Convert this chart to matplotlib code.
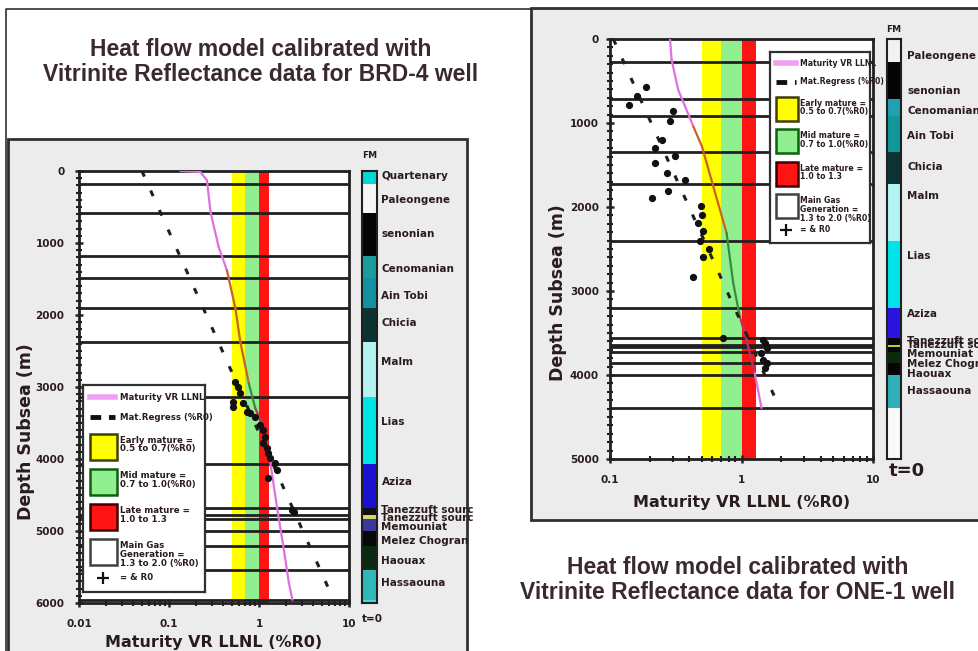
import numpy as np
import matplotlib
matplotlib.use("Agg")
import matplotlib.pyplot as plt
from matplotlib.patches import Rectangle
from matplotlib.lines import Line2D
from matplotlib.ticker import FixedLocator, MultipleLocator, NullFormatter, LogLocator

# ---------------- BRD-4 well (left) ----------------
brd_fm_names = ["Quartenary", "Paleongene", "senonian", "Cenomanian", "Ain Tobi", "Chicia",
                "Malm", "Lias", "Aziza", "Tanezzuft sourc", "Tanezzuft sourc", "Memouniat",
                "Melez Chogran", "Haouax", "Hassaouna", ""]
brd_fm_top = [0, 176, 578, 1183, 1484, 1909, 2372, 3134, 4073, 4683, 4776, 4836, 4998, 5206, 5548, 5955]
brd_fm_base = [176, 578, 1183, 1484, 1909, 2372, 3134, 4073, 4683, 4776, 4836, 4998, 5206, 5548, 5955, 6000]
brd_fm_colors = ["#00d8d8", "#f6f6f6", "#050505", "#1c9c9c", "#1490a0", "#0c3232", "#b4f2f2",
                 "#00e6e6", "#1a10d0", "#101010", "#d8d860", "#3838a0", "#080808", "#0a2a10",
                 "#30b8b8", "#40e0e0"]
brd_label_depth = [74, 407, 878, 1355, 1738, 2117, 2649, 3481, 4323, 4706, 4813, 4947, 5132, 5414, 5724, 0]

brd_vr_depth = [0, 14, 129, 578, 1054, 1378, 1909, 2372, 2950, 3296, 3551, 4059, 4683, 5261, 5724, 5955]
brd_vr_model = [0.133, 0.223, 0.264, 0.29, 0.356, 0.44, 0.547, 0.62, 0.77, 0.91, 1.13, 1.34, 1.59, 1.89, 2.15, 2.35]

brd_reg_depth = [0, 6000]
brd_reg_ro = [0.05, 7.0]

brd_meas_depth = [2926, 2996, 3088, 3204, 3273, 3227, 3343, 3366, 3413, 3528, 3597, 3690,
                  3782, 3851, 3921, 3990, 4060, 4153, 4268, 4708, 4730]
brd_meas_ro = [0.54, 0.59, 0.61, 0.52, 0.51, 0.67, 0.73, 0.80, 0.91, 1.03, 1.12, 1.17,
               1.12, 1.22, 1.27, 1.33, 1.51, 1.58, 1.27, 2.32, 2.45]

# ---------------- ONE-1 well (right) ----------------
one_fm_names = ["Paleongene", "senonian", "Cenomanian", "Ain Tobi", "Chicia", "Malm", "Lias",
                "Aziza", "Tanezzuft sourc", "Tanezzuft sourc", "Memouniat", "Melez Chogran",
                "Haouax", "Hassaouna", ""]
one_fm_top = [0, 278, 714, 921, 1349, 1726, 2409, 3202, 3560, 3640, 3663, 3722, 3853, 3996, 4393]
one_fm_base = [278, 714, 921, 1349, 1726, 2409, 3202, 3560, 3640, 3663, 3722, 3853, 3996, 4393, 5000]
one_fm_colors = ["#f2f2f2", "#050505", "#20a0b0", "#109898", "#0a3434", "#b4f4f4", "#00e4e8",
                 "#2a14e0", "#080808", "#c8c840", "#080808", "#0a2a0a", "#050505", "#30b0b8",
                 "#fafafa"]
one_label_depth = [206, 623, 861, 1151, 1524, 1873, 2579, 3274, 3599, 3639, 3746, 3865, 3984, 4194, 0]

one_vr_depth = [0, 246, 604, 1040, 1278, 1754, 2310, 2905, 3302, 3579, 3976, 4393]
one_vr_model = [0.286, 0.294, 0.33, 0.43, 0.50, 0.61, 0.77, 0.865, 0.97, 1.09, 1.26, 1.42]

one_reg_depth = [0, 4393]
one_reg_ro = [0.106, 1.95]

one_meas_depth = [571, 683, 782, 862, 981, 1199, 1298, 1398, 1477, 1595, 1675, 1806, 1893,
                  1993, 2092, 2190, 2290, 2410, 2500, 2595, 2833, 3560, 3580, 3619, 3679,
                  3738, 3818, 3857, 3917]
one_meas_ro = [0.188, 0.16, 0.14, 0.30, 0.286, 0.247, 0.22, 0.31, 0.22, 0.27, 0.37, 0.277, 0.207,
               0.49, 0.50, 0.47, 0.51, 0.48, 0.57, 0.51, 0.43, 0.72, 1.46, 1.50, 1.55,
               1.41, 1.46, 1.55, 1.50]

# maturity windows (%R0)
zone_lo = [0.5, 0.7, 1.0, 1.3]
zone_hi = [0.7, 1.0, 1.3, 2.0]
zone_colors = ["#ffff00", "#90f090", "#ff1414", "#ffffff"]
zone_text = ["Early mature =\n0.5 to 0.7(%R0)", "Mid mature =\n0.7 to 1.0(%R0)",
             "Late mature =\n1.0 to 1.3", "Main Gas\nGeneration =\n1.3 to 2.0 (%R0)"]
zone_edges = ["#404000", "#106010", "#400000", "#404040"]

W, H = 979, 651
TXT = "#2a1c1c"
BOLD = dict(fontweight="bold", color=TXT, family="DejaVu Sans")

fig = plt.figure(figsize=(W / 100, H / 100), dpi=100)
fig.patch.set_facecolor("white")


def px_box(x0, y0, x1, y1):
    # pixel box (top-left origin) -> figure fraction rect
    return [x0 / W, 1 - y1 / H, (x1 - x0) / W, (y1 - y0) / H]


def frame(x0, y0, x1, y1, fc, lw=1.6):
    r = px_box(x0, y0, x1, y1)
    fig.patches.append(Rectangle((r[0], r[1]), r[2], r[3], transform=fig.transFigure,
                                 facecolor=fc, edgecolor="#303030", lw=lw, zorder=-5))


# panel frames
fig.lines.append(Line2D([6 / W, 6 / W, 531 / W], [0, 1 - 9 / H, 1 - 9 / H],
                        transform=fig.transFigure, color="#303030", lw=1.2, zorder=-6))
frame(8, 139, 467, 660, "#ececec", 2.0)
frame(531, 8, 990, 520, "#ececec", 2.0)


def vr_color(v):
    if v < 0.42:
        return "#e070e0"
    if v < 0.72:
        return "#c8641e"
    if v < 1.0:
        return "#3c8c3c"
    if v < 1.3:
        return "#c03060"
    return "#e070e0"


def draw_well(rect, bar_rect, xlim, ymax, fm_top, fm_base, fm_colors, fm_names, label_depth,
              label_x, vr_depth, vr_model, reg_depth, reg_ro, meas_depth, meas_ro, xticks,
              xticklabels, ypad, xlab_y):
    ax = fig.add_axes(px_box(*rect))
    ax.set_facecolor("white")
    ax.set_xscale("log")
    ax.set_xlim(*xlim)
    ax.set_ylim(ymax, 0)
    for lo, hi, c in zip(zone_lo, zone_hi, zone_colors):
        ax.axvspan(lo, hi, color=c, lw=0, zorder=1)
    for d in fm_top[1:]:
        ax.axhline(d, color="#202020", lw=2.0, zorder=2)
    # modelled maturity, coloured by maturity window
    for i in range(len(vr_depth) - 1):
        v = 0.5 * (vr_model[i] + vr_model[i + 1])
        ax.plot(vr_model[i:i + 2], vr_depth[i:i + 2], color=vr_color(v), lw=1.6, zorder=3,
                solid_capstyle="round")
    ax.plot(reg_ro, reg_depth, color="#202020", lw=2.2, dashes=(2, 5), zorder=3)
    ax.plot(meas_ro, meas_depth, "o", color="#111111", ms=4.2, zorder=4)
    for s in ax.spines.values():
        s.set_linewidth(2.0)
        s.set_color("#202020")
    ax.yaxis.set_major_locator(MultipleLocator(1000))
    ax.yaxis.set_minor_locator(MultipleLocator(100))
    ax.xaxis.set_major_locator(FixedLocator(xticks))
    ax.set_xticklabels(xticklabels)
    ax.xaxis.set_minor_locator(LogLocator(base=10, subs=np.arange(2, 10)))
    ax.xaxis.set_minor_formatter(NullFormatter())
    ax.tick_params(which="major", direction="inout", length=6, width=1.8, color="#202040",
                   labelsize=7.5)
    ax.tick_params(axis="x", which="major", pad=8.5)
    ax.tick_params(axis="y", which="major", pad=ypad)
    ax.tick_params(which="minor", direction="inout", length=4, width=1.5, color="#202020")
    for lab in ax.get_xticklabels() + ax.get_yticklabels():
        lab.set_fontweight("bold")
        lab.set_color(TXT)
    ax.set_xlabel("Maturity VR LLNL (%R0)", fontsize=11.5, **BOLD)
    ax.xaxis.set_label_coords(0.5, xlab_y)
    ax.set_ylabel("Depth Subsea (m)", fontsize=12.5, **BOLD)
    ax.yaxis.set_label_coords(-0.163, 0.396)

    bar = fig.add_axes(px_box(*bar_rect))
    bar.set_xlim(0, 1)
    bar.set_ylim(ymax, 0)
    bar.bar([0.5] * len(fm_top), np.array(fm_base) - np.array(fm_top), bottom=fm_top, width=1.0,
            color=fm_colors, lw=0)
    bar.set_xticks([])
    bar.set_yticks([])
    for s in bar.spines.values():
        s.set_linewidth(1.5)
        s.set_color("#202020")
    for name, d, x in zip(fm_names, label_depth, label_x):
        if name:
            bar.text(x, d, name, fontsize=7.5, va="center", ha="left", clip_on=False,
                     transform=bar.get_yaxis_transform(), **BOLD)
    return ax, bar


def draw_legend(rect, line_len, fs):
    lg = fig.add_axes(px_box(*rect))
    lg.set_xlim(0, 1)
    lg.set_ylim(1, 0)
    lg.set_facecolor("white")
    lg.set_xticks([])
    lg.set_yticks([])
    for s in lg.spines.values():
        s.set_linewidth(1.6)
        s.set_color("#303030")
    hx = 0.06
    tx = 0.30
    lg.plot([hx, hx + 0.2], [0.06, 0.06], color="#f0a0f0", lw=4)
    lg.text(tx, 0.06, "Maturity VR LLNL", fontsize=fs, va="center", **BOLD)
    lg.plot([hx, hx + 0.2], [0.155, 0.155], color="#111111", lw=3.5, dashes=(2.2, 1.6))
    lg.text(tx, 0.155, "Mat.Regress (%R0)", fontsize=fs, va="center", **BOLD)
    ys = [0.235, 0.405, 0.575, 0.745]
    for y, c, ec, t in zip(ys, zone_colors, zone_edges, zone_text):
        lg.add_patch(Rectangle((hx, y), line_len, 0.125, facecolor=c, edgecolor=ec, lw=1.8))
        lg.text(tx, y + 0.01, t, fontsize=fs, va="top", linespacing=0.95, **BOLD)
    lg.plot([hx + 0.1], [0.93], "+", color="#111111", ms=8, mew=1.6)
    lg.text(tx, 0.93, "= & R0", fontsize=fs, va="center", **BOLD)
    return lg


# left well
draw_well((79, 171, 349, 603), (362, 171, 377, 603), (0.01, 10), 6000,
          brd_fm_top, brd_fm_base, brd_fm_colors, brd_fm_names, brd_label_depth,
          [1.3] * len(brd_fm_names), brd_vr_depth, brd_vr_model, brd_reg_depth, brd_reg_ro,
          brd_meas_depth, brd_meas_ro, [0.01, 0.1, 1, 10], ["0.01", "0.1", "1", "10"],
          7.5, -0.073)
draw_legend((83, 385, 205, 592), 0.22, 6.2)
fig.text(362 / W, 1 - 158 / H, "FM", fontsize=6.5, **BOLD)
fig.text(362 / W, 1 - 619 / H, "t=0", fontsize=7.5, va="center", **BOLD)

# right well
draw_well((610, 39, 873, 459), (887, 39, 901, 459), (0.1, 10), 5000,
          one_fm_top, one_fm_base, one_fm_colors, one_fm_names, one_label_depth,
          [1.45] * len(one_fm_names), one_vr_depth, one_vr_model, one_reg_depth, one_reg_ro,
          one_meas_depth, one_meas_ro, [0.1, 1, 10], ["0.1", "1", "10"],
          5.0, -0.086)
draw_legend((770, 52, 870, 243), 0.22, 5.6)
fig.text(886 / W, 1 - 30 / H, "FM", fontsize=6.5, va="center", **BOLD)
fig.text(889 / W, 1 - 471 / H, "t=0", fontsize=13, va="center", **BOLD)

title_kw = dict(fontsize=16.5, fontweight="bold", color="#3a2a30", ha="center", va="center",
                family="Liberation Sans", linespacing=1.1)
fig.text(261 / W, 1 - 62 / H, "Heat flow model calibrated with\nVitrinite Reflectance data for BRD-4 well",
         **title_kw)
fig.text(738 / W, 1 - 580 / H, "Heat flow model calibrated with\nVitrinite Reflectance data for ONE-1 well",
         **title_kw)

fig.savefig("out.png", dpi=100)
